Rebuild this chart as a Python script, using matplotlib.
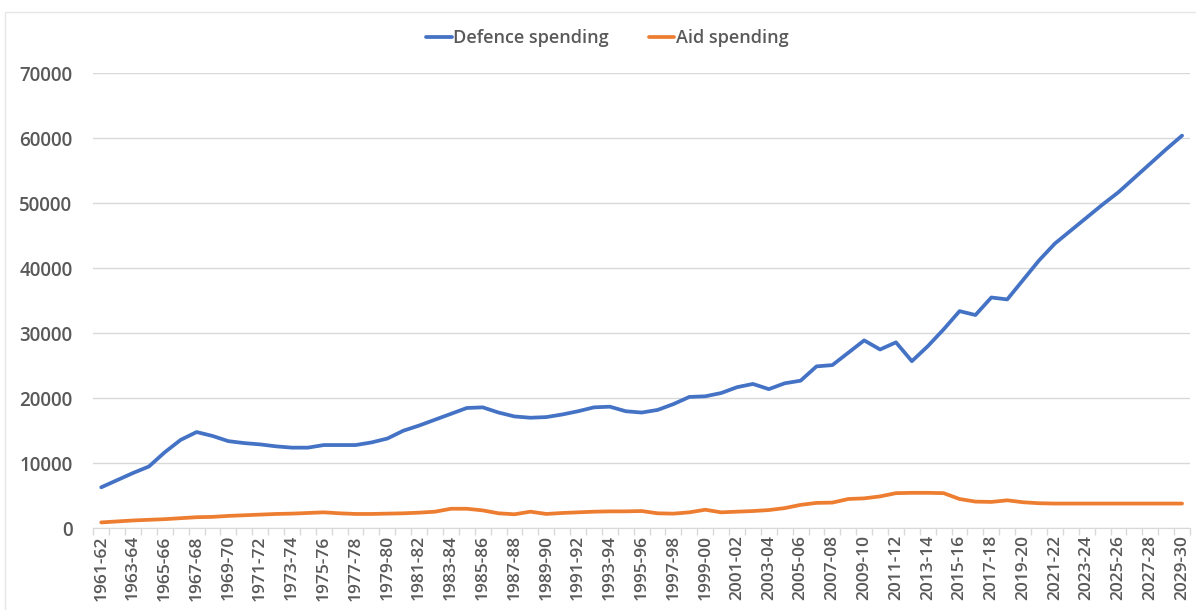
"""
Defence vs aid spending, 1961-62 to 2029-30.
"""

import matplotlib
matplotlib.use("Agg")
import matplotlib.pyplot as plt
import matplotlib.ticker as mticker
from matplotlib.patches import Rectangle

FONT = "Open Sans"
TEXT_GREY = "#595959"
GRID_GREY = "#d9d9d9"

# fiscal years 1961-62 ... 2029-30
start_years = list(range(1961, 2030))
years = [f"{y}-{(y + 1) % 100:02d}" for y in start_years]

defence = [
    6300, 7400, 8500, 9500, 11700, 13600, 14800, 14200, 13400, 13100,
    12900, 12600, 12400, 12400, 12800, 12800, 12800, 13200, 13800, 15000,
    15800, 16700, 17600, 18500, 18600, 17800, 17200, 17000, 17100, 17500,
    18000, 18600, 18700, 18000, 17800, 18200, 19100, 20200, 20300, 20800,
    21700, 22200, 21400, 22300, 22700, 24900, 25100, 27000, 28900, 27500,
    28600, 25700, 28000, 30600, 33400, 32800, 35500, 35200, 38200, 41200,
    43800, 45800, 47800, 49800, 51700, 53900, 56100, 58300, 60400,
]

aid = [
    900, 1050, 1200, 1300, 1400, 1550, 1700, 1750, 1900, 2000,
    2100, 2200, 2250, 2350, 2450, 2300, 2200, 2200, 2250, 2300,
    2400, 2550, 3000, 3000, 2750, 2300, 2150, 2550, 2200, 2350,
    2450, 2550, 2600, 2600, 2650, 2300, 2250, 2450, 2850, 2450,
    2550, 2650, 2800, 3100, 3600, 3900, 3950, 4500, 4600, 4900,
    5400, 5450, 5450, 5400, 4500, 4100, 4050, 4300, 4000, 3850,
    3800, 3800, 3800, 3800, 3800, 3800, 3800, 3800, 3800,
]

y_ticks = [0, 10000, 20000, 30000, 40000, 50000, 60000, 70000]

plt.rcParams["font.family"] = [FONT, "DejaVu Sans"]
plt.rcParams["font.weight"] = "semibold"

fig = plt.figure(figsize=(11.96, 6.10), dpi=100)
ax = fig.add_axes([0.078, 0.134, 0.917, 0.746])

x = list(range(len(years)))
ax.plot(x, defence, color="#4472C4", lw=2.7, label="Defence spending",
        solid_capstyle="round", solid_joinstyle="round")
ax.plot(x, aid, color="#ED7D31", lw=2.7, label="Aid spending",
        solid_capstyle="round", solid_joinstyle="round")

ax.set_xlim(-0.5, len(years) - 0.5)
ax.set_ylim(0, 70000)

# labels on every other category, tick marks between categories
ax.set_xticks(x[::2])
ax.set_xticklabels(years[::2], rotation=90, fontsize=12.5, color=TEXT_GREY)
ax.xaxis.set_minor_locator(mticker.FixedLocator(
    [i - 0.5 for i in range(len(years) + 1)]))
ax.tick_params(axis="x", which="major", length=0, pad=5)
ax.tick_params(axis="x", which="minor", length=5, color=GRID_GREY, width=1)

ax.set_yticks(y_ticks)
ax.set_yticklabels([str(v) for v in y_ticks], fontsize=13.5, color=TEXT_GREY)
ax.tick_params(axis="y", length=0, pad=15)

ax.set_axisbelow(True)
ax.grid(True, axis="y", color=GRID_GREY, lw=1)
for side in ["top", "right", "left"]:
    ax.spines[side].set_visible(False)
ax.spines["bottom"].set_color(GRID_GREY)

fig.legend(
    loc="center",
    bbox_to_anchor=(0.508, 0.938),
    ncol=2,
    frameon=False,
    fontsize=13,
    labelcolor=TEXT_GREY,
    handlelength=1.4,
    handletextpad=0.1,
    columnspacing=2.2,
)

# faint chart-area border
fig.patches.append(Rectangle((0.004, -0.01), 1.2, 0.99, transform=fig.transFigure,
                             fill=False, edgecolor="#e6e6e6", lw=1))

fig.savefig("out.png", dpi=100)
